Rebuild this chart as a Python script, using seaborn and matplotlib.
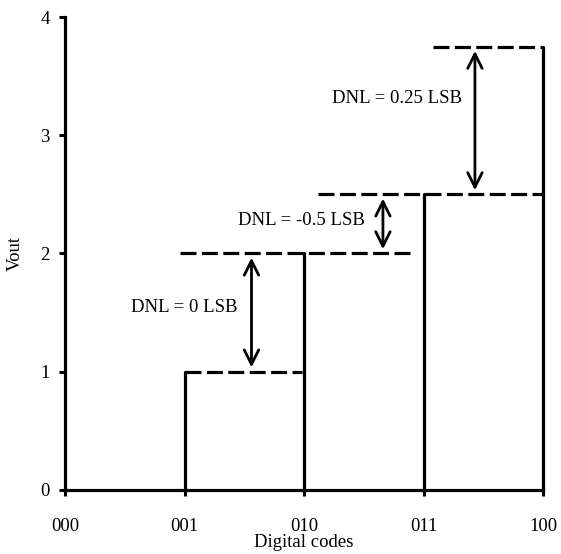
import numpy as np
import pandas as pd
import matplotlib
matplotlib.use("Agg")
import matplotlib.pyplot as plt
import seaborn as sns

# Transfer curve of a 3-bit DAC with non-ideal steps
code_labels = ["000", "001", "010", "011", "100"]
code_pos = [0, 1, 2, 3, 4]
vout_ticks = [0, 1, 2, 3, 4]
step_codes = [1, 2, 3, 4]
dnl = [0.0, -0.5, 0.25]           # DNL of each step, in LSB
first_level = 1.0
levels = [first_level]
for d in dnl:
    levels.append(levels[-1] + 1.0 + d)   # step height = 1 LSB + DNL

# dashed level extents (start, end) along the code axis
level_start = [1.0, 0.96, 2.12, 3.08]
level_end = [1.98, 2.93, 4.0, 3.99]
# arrow positions along the code axis and text anchors
arrow_x = [1.56, 2.66, 3.43]
text_xy = [(1.0, 1.54), (1.98, 2.28), (2.78, 3.31)]

sns.set_theme(style="white")
plt.rcParams["font.family"] = ["Liberation Serif", "DejaVu Serif"]

rows = []
for i, (c, lv) in enumerate(zip(step_codes, levels)):
    rows += [dict(seg=f"v{i}", kind="riser", x=c, y=0.0),
             dict(seg=f"v{i}", kind="riser", x=c, y=lv)]
    rows += [dict(seg=f"h{i}", kind="level", x=level_start[i], y=lv),
             dict(seg=f"h{i}", kind="level", x=level_end[i], y=lv)]
df = pd.DataFrame(rows)

fig = plt.figure(figsize=(5.61, 5.54), dpi=100)
ax = fig.add_axes([0.116, 0.116, 0.852, 0.853])

sns.lineplot(data=df, x="x", y="y", units="seg", estimator=None,
             style="kind", dashes={"riser": "", "level": (5, 1.7)},
             color="black", linewidth=2.3, sort=False, legend=False, ax=ax)
for ln in ax.get_lines():
    ln.set_clip_on(False)

for i, d in enumerate(dnl):
    ax.annotate("", xy=(arrow_x[i], levels[i]), xytext=(arrow_x[i], levels[i + 1]),
                arrowprops=dict(arrowstyle="<->", color="black", lw=2.0,
                                mutation_scale=26, shrinkA=3, shrinkB=3))
    lbl = f"{d:g}" if d != 0 else "0"
    ax.text(text_xy[i][0], text_xy[i][1], f"DNL = {lbl} LSB", ha="center",
            va="center", fontsize=13.5, color="black")

ax.set_xlim(0, 4)
ax.set_ylim(0, 4)
ax.set_xticks(code_pos)
ax.set_xticklabels(code_labels)
ax.set_yticks(vout_ticks)
ax.set_xlabel("Digital codes", fontsize=13.5, color="black")
ax.set_ylabel("Vout", fontsize=13.5, color="black")
ax.xaxis.set_label_coords(0.5, -0.093)
ax.yaxis.set_label_coords(-0.086, 0.5)
ax.tick_params(axis="both", direction="out", length=4, width=2.2,
               labelsize=13.5, colors="black", bottom=True, left=True)
ax.tick_params(axis="x", pad=16)
ax.tick_params(axis="y", pad=7)
for s in ["top", "right"]:
    ax.spines[s].set_visible(False)
for s in ["left", "bottom"]:
    ax.spines[s].set_linewidth(2.3)
    ax.spines[s].set_color("black")
    ax.spines[s].set_zorder(5)
ax.grid(False)

fig.savefig("out.png", dpi=100)
